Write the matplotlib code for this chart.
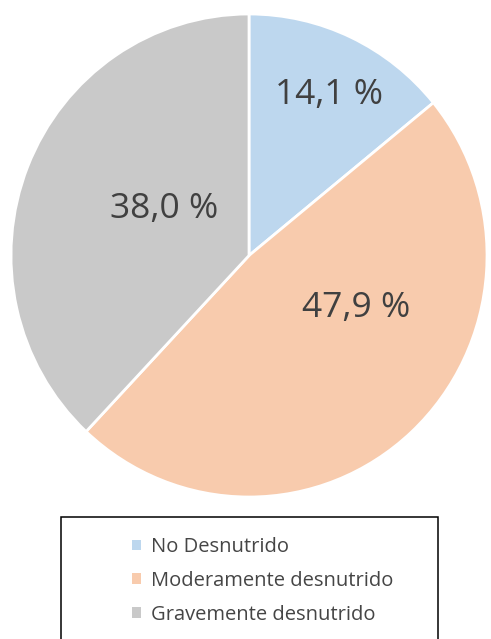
import numpy as np
import matplotlib
matplotlib.use("Agg")
import matplotlib.pyplot as plt
from matplotlib.patches import Patch, Rectangle

plt.rcParams["font.family"] = ["Open Sans", "DejaVu Sans"]

categories = ["No Desnutrido", "Moderamente desnutrido", "Gravemente desnutrido"]
values = [14.1, 47.9, 38.0]
labels = ["14,1 %", "47,9 %", "38,0 %"]
colors = ["#BDD7EE", "#F8CBAD", "#C9C9C9"]
label_r = [0.745, 0.50, 0.406]
label_shift = [-1.4, 21.2, -6.8]  # degrees, Excel "best fit" spots

fig = plt.figure(figsize=(4.91, 6.39), dpi=100)
ax = fig.add_axes([0.0224, 0.2222, 0.9695, 0.7559])

wedges, _ = ax.pie(values, colors=colors, startangle=90, counterclock=False,
                   wedgeprops=dict(edgecolor="white", linewidth=2))
ax.set_xlim(-1, 1)
ax.set_ylim(-1, 1)
ax.set_aspect("auto")
ax.axis("off")

for w, lab, r, sh in zip(wedges, labels, label_r, label_shift):
    ang = np.deg2rad((w.theta1 + w.theta2) / 2 + sh)
    ax.text(r * np.cos(ang), r * np.sin(ang), lab, ha="center", va="center",
            fontsize=25.5, color="#404040")

# legend frame (wider than the entries, runs off the bottom)
fig.patches.append(Rectangle((0.124, -0.05), 0.768, 0.241, transform=fig.transFigure,
                             facecolor="none", edgecolor="black", linewidth=1.1))

handles = [Patch(facecolor=c, edgecolor="none") for c in colors]
leg = fig.legend(handles, categories, loc="center left", bbox_to_anchor=(0.268, 0.091),
                 frameon=False, fontsize=14.5, labelcolor="#454545",
                 handlelength=0.45, handleheight=0.45, handletextpad=0.5,
                 labelspacing=0.68, borderpad=0, borderaxespad=0)

fig.savefig("out.png", dpi=100, facecolor="white")
